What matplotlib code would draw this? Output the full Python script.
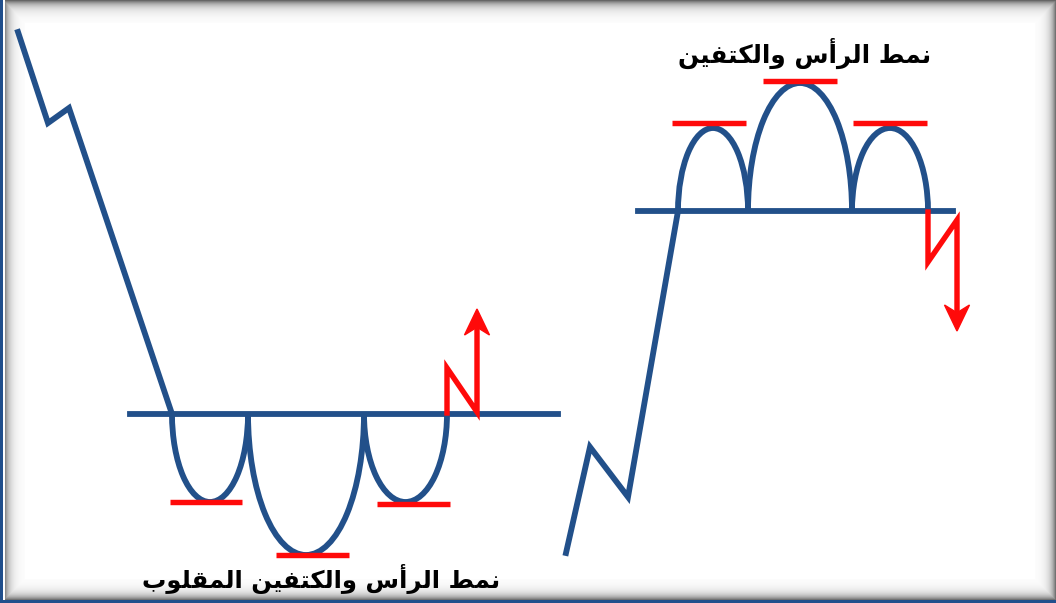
import numpy as np
import matplotlib
matplotlib.use("Agg")
import matplotlib.pyplot as plt
from matplotlib.patches import Arc, Polygon

W, H = 1056, 603

# --- inverse head & shoulders (left) ---
down_trend_x = [18, 48, 69, 172]
down_trend_y = [32, 123, 108, 414]
inv_neck_x = [130, 558]
inv_neck_y = 414
inv_edges = [172, 248, 364, 447]
inv_bottoms = [502, 555, 502]
inv_mark_x0 = [170, 276, 377]
inv_mark_x1 = [242, 349, 450]
inv_mark_y = [502, 555, 504]
up_break_x = [447, 447, 477, 477]
up_break_y = [413, 368, 412, 309]
inv_title = "نمط الرأس والكتفين المقلوب"

# --- head & shoulders (right) ---
up_trend_x = [566, 590, 628, 678]
up_trend_y = [553, 447, 497, 211]
hs_neck_x = [638, 953]
hs_neck_y = 211
hs_edges = [678, 748, 852, 928]
hs_tops = [128, 83, 128]
hs_mark_x0 = [672, 763, 853]
hs_mark_x1 = [746, 837, 927]
hs_mark_y = [123, 81, 123]
down_break_x = [928, 928, 957, 957]
down_break_y = [212, 262, 220, 331]
hs_title = "نمط الرأس والكتفين"

BLUE = "#22508a"
RED = "#ff0a0a"

# minimal arabic shaping (presentation forms: iso, fin, ini, med)
FORMS = {
    "ا": ("\uFE8D", "\uFE8E", None, None),
    "أ": ("\uFE83", "\uFE84", None, None),
    "ر": ("\uFEAD", "\uFEAE", None, None),
    "و": ("\uFEED", "\uFEEE", None, None),
    "ن": ("\uFEE5", "\uFEE6", "\uFEE7", "\uFEE8"),
    "م": ("\uFEE1", "\uFEE2", "\uFEE3", "\uFEE4"),
    "ط": ("\uFEC1", "\uFEC2", "\uFEC3", "\uFEC4"),
    "ل": ("\uFEDD", "\uFEDE", "\uFEDF", "\uFEE0"),
    "س": ("\uFEB1", "\uFEB2", "\uFEB3", "\uFEB4"),
    "ك": ("\uFED9", "\uFEDA", "\uFEDB", "\uFEDC"),
    "ت": ("\uFE95", "\uFE96", "\uFE97", "\uFE98"),
    "ف": ("\uFED1", "\uFED2", "\uFED3", "\uFED4"),
    "ي": ("\uFEF1", "\uFEF2", "\uFEF3", "\uFEF4"),
    "ق": ("\uFED5", "\uFED6", "\uFED7", "\uFED8"),
    "ب": ("\uFE8F", "\uFE90", "\uFE91", "\uFE92"),
}


def joins_left(c):
    return c in FORMS and FORMS[c][2] is not None


def shape(text):
    out = []
    for word in text.split(" "):
        res = []
        for i, c in enumerate(word):
            prev_j = i > 0 and joins_left(word[i - 1])
            next_j = i < len(word) - 1 and word[i + 1] in FORMS and joins_left(c)
            iso, fin, ini, med = FORMS[c]
            if prev_j and next_j:
                res.append(med)
            elif prev_j:
                res.append(fin)
            elif next_j:
                res.append(ini)
            else:
                res.append(iso)
        out.append("".join(res))
    return " ".join(out)[::-1]


def stealth(ax, x0, y0, x1, y1, length=26, half=12.5, notch=0.3):
    d = np.array([x1 - x0, y1 - y0], float)
    d /= np.hypot(*d)
    n = np.array([-d[1], d[0]])
    tip = np.array([x1, y1])
    base = tip - d * length
    pts = [tip, base + n * half, tip - d * length * (1 - notch), base - n * half]
    ax.add_patch(Polygon(pts, closed=True, color=RED, zorder=5))


fig = plt.figure(figsize=(W / 100, H / 100), dpi=100)
ax = fig.add_axes([0, 0, 1, 1])

# frame with inner shadow
yy, xx = np.mgrid[0:H, 0:W]
shade = np.maximum.reduce([
    0.6 * np.exp(-yy / 5.5),
    0.55 * np.exp(-(W - 1 - xx) / 5.0),
    0.55 * np.exp(-(H - 4 - yy).clip(0) / 5.0),
    0.45 * np.exp(-(xx - 5).clip(0) / 5.0),
])
shade[shade < 0.01] = 0
img = np.ones((H, W, 3)) * (1 - shade)[..., None]
img[:, :3] = [0.13, 0.31, 0.55]
img[:, 3:5] = 1.0
img[H - 3:, :] = [0.13, 0.31, 0.55]
ax.imshow(img, extent=[0, W, H, 0], zorder=0, interpolation="none")
ax.set_xlim(0, W)
ax.set_ylim(H, 0)
ax.axis("off")

lw = 4.2
rlw = 3.9
# left pattern
ax.plot(down_trend_x, down_trend_y, color=BLUE, lw=lw, solid_joinstyle="miter", zorder=3)
ax.plot(inv_neck_x, [inv_neck_y] * 2, color=BLUE, lw=lw, zorder=3)
for a, b, d in zip(inv_edges[:-1], inv_edges[1:], inv_bottoms):
    ax.add_patch(Arc(((a + b) / 2, inv_neck_y), b - a, 2 * (d - inv_neck_y),
                     theta1=0, theta2=180, color=BLUE, lw=lw, zorder=3))
ax.hlines(inv_mark_y, inv_mark_x0, inv_mark_x1, color=RED, lw=rlw, zorder=4)
ax.plot(up_break_x[:-1] + [up_break_x[-1]], up_break_y[:-1] + [up_break_y[-1] + 20],
        color=RED, lw=rlw, solid_joinstyle="miter", zorder=5)
stealth(ax, up_break_x[-2], up_break_y[-2], up_break_x[-1], up_break_y[-1])

# right pattern
ax.plot(up_trend_x, up_trend_y, color=BLUE, lw=lw, solid_joinstyle="miter", zorder=3)
ax.plot(hs_neck_x, [hs_neck_y] * 2, color=BLUE, lw=lw, zorder=3)
for a, b, t in zip(hs_edges[:-1], hs_edges[1:], hs_tops):
    ax.add_patch(Arc(((a + b) / 2, hs_neck_y), b - a, 2 * (hs_neck_y - t),
                     theta1=180, theta2=360, color=BLUE, lw=lw, zorder=3))
ax.hlines(hs_mark_y, hs_mark_x0, hs_mark_x1, color=RED, lw=rlw, zorder=4)
ax.plot(down_break_x[:-1] + [down_break_x[-1]], down_break_y[:-1] + [down_break_y[-1] - 20],
        color=RED, lw=rlw, solid_joinstyle="miter", zorder=5)
stealth(ax, down_break_x[-2], down_break_y[-2], down_break_x[-1], down_break_y[-1])

ax.text(805, 53, shape(hs_title), ha="center", va="center", fontsize=17.8,
        fontweight="bold", family=["DejaVu Sans"], color="black", zorder=6)
ax.text(321, 579, shape(inv_title), ha="center", va="center", fontsize=17.6,
        fontweight="bold", family=["DejaVu Sans"], color="black", zorder=6)

fig.savefig("out.png", dpi=100)
